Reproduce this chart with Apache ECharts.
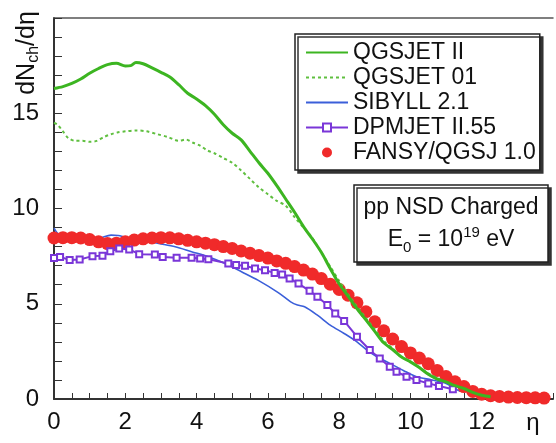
<!DOCTYPE html>
<html>
<head>
<meta charset="utf-8">
<script src="https://cdn.jsdelivr.net/npm/echarts@6/dist/echarts.min.js"></script>
<style>
  html, body { margin: 0; padding: 0; background: #fff; }
  #chart { width: 556px; height: 443px; }
</style>
</head>
<body>
<div id="chart"></div>
<script>
// pp NSD charged, dNch/deta vs eta

// QGSJET II (solid green)
const qgs2Eta = [0, 0.25, 0.5, 0.75, 1.0, 1.25, 1.5, 1.75, 2.0, 2.15, 2.3, 2.5, 2.75, 3.0, 3.25, 3.5, 3.75, 4.0, 4.25, 4.5, 4.75, 5.0, 5.25, 5.5, 5.75, 6.0, 6.25, 6.5, 6.75, 7.0, 7.25, 7.5, 7.75, 8.0, 8.25, 8.5, 8.75, 9.0, 9.25, 9.5, 9.75, 10.0, 10.25, 10.5, 10.75, 11.0, 11.25, 11.5, 11.75, 12.0, 12.25];
const qgs2Val = [16.3, 16.4, 16.57, 16.8, 17.1, 17.35, 17.55, 17.62, 17.48, 17.5, 17.67, 17.6, 17.38, 17.15, 16.9, 16.5, 16.05, 15.75, 15.4, 14.95, 14.4, 13.95, 13.6, 13.0, 12.4, 11.85, 11.2, 10.5, 9.8, 9.05, 8.4, 7.7, 6.85, 6.05, 5.4, 4.75, 4.15, 3.55, 2.95, 2.6, 2.2, 1.95, 1.65, 1.3, 1.05, 0.9, 0.7, 0.55, 0.35, 0.2, 0.12];

// QGSJET 01 (dotted green)
const qgs01Eta = [0, 0.1, 0.25, 0.4, 0.6, 0.8, 1.0, 1.2, 1.4, 1.6, 1.8, 2.0, 2.3, 2.6, 2.9, 3.2, 3.5, 3.7, 3.9, 4.1, 4.3, 4.5, 4.75, 5.0, 5.25, 5.5, 5.75, 6.0, 6.25, 6.5, 6.75, 7.0, 7.25, 7.5, 7.75, 8.0, 8.25, 8.5, 8.75, 9.0, 9.25, 9.5, 9.75, 10.0, 10.25, 10.5, 10.75, 11.0, 11.25, 11.5, 11.75, 12.0];
const qgs01Val = [14.5, 14.4, 14.05, 13.7, 13.55, 13.55, 13.5, 13.55, 13.75, 13.9, 14.0, 14.05, 14.1, 14.05, 13.9, 13.75, 13.55, 13.62, 13.45, 13.3, 13.05, 12.9, 12.65, 12.4, 12.0, 11.55, 11.1, 10.75, 10.4, 10.15, 9.55, 9.0, 8.45, 7.7, 6.95, 6.2, 5.5, 4.85, 4.25, 3.65, 3.05, 2.65, 2.2, 1.95, 1.65, 1.35, 1.1, 0.9, 0.7, 0.55, 0.35, 0.2];

// SIBYLL 2.1 (blue)
const sibEta = [0, 0.1, 0.3, 0.6, 1.0, 1.3, 1.6, 1.8, 2.0, 2.3, 2.94, 3.4, 3.86, 4.33, 4.8, 5.26, 5.72, 6.28, 6.64, 6.83, 7.03, 7.39, 7.75, 8.14, 8.5, 8.78, 9.06, 9.42, 9.8, 10.17, 10.6, 11.0, 11.22, 11.4];
const sibVal = [8.97, 8.7, 8.45, 8.38, 8.36, 8.46, 8.6, 8.58, 8.5, 8.4, 8.16, 7.99, 7.73, 7.47, 7.11, 6.68, 6.24, 5.6, 5.1, 4.93, 4.84, 4.4, 3.88, 3.44, 3.0, 2.57, 2.22, 1.87, 1.5, 1.17, 1.0, 0.82, 0.58, 0.4];

// DPMJET II.55 (purple, open squares)
const dpmEta = [0, 0.17, 0.44, 0.72, 1.08, 1.36, 1.58, 1.83, 2.11, 2.39, 2.83, 3.05, 3.44, 3.86, 4.1, 4.33, 4.89, 5.11, 5.36, 5.64, 5.92, 6.19, 6.4, 6.61, 6.86, 7.17, 7.39, 7.67, 7.89, 8.14, 8.5, 8.86, 9.14, 9.42, 9.61, 9.89, 10.17, 10.5, 10.8, 11.19];
const dpmVal = [7.4, 7.46, 7.3, 7.32, 7.5, 7.52, 7.76, 7.9, 7.85, 7.6, 7.58, 7.46, 7.41, 7.41, 7.38, 7.34, 7.11, 7.03, 6.99, 6.85, 6.76, 6.62, 6.54, 6.33, 6.06, 5.68, 5.37, 4.93, 4.49, 4.1, 3.27, 2.57, 2.13, 1.69, 1.43, 1.17, 1.0, 0.82, 0.68, 0.51];

// FANSY/QGSJ 1.0 (red dots, step 0.25)
const fansyEta = [0, 0.25, 0.5, 0.75, 1.0, 1.25, 1.5, 1.75, 2.0, 2.25, 2.5, 2.75, 3.0, 3.25, 3.5, 3.75, 4.0, 4.25, 4.5, 4.75, 5.0, 5.25, 5.5, 5.75, 6.0, 6.25, 6.5, 6.75, 7.0, 7.25, 7.5, 7.75, 8.0, 8.25, 8.5, 8.75, 9.0, 9.25, 9.5, 9.75, 10.0, 10.25, 10.5, 10.75, 11.0, 11.25, 11.5, 11.75, 12.0, 12.25, 12.5, 12.75, 13.0, 13.25, 13.5, 13.75];
const fansyVal = [8.45, 8.47, 8.47, 8.45, 8.37, 8.25, 8.16, 8.18, 8.25, 8.34, 8.41, 8.45, 8.47, 8.46, 8.41, 8.33, 8.25, 8.18, 8.1, 8.0, 7.9, 7.77, 7.65, 7.53, 7.4, 7.25, 7.12, 6.95, 6.77, 6.56, 6.32, 6.03, 5.75, 5.45, 5.05, 4.58, 4.05, 3.58, 3.15, 2.75, 2.42, 2.15, 1.85, 1.5, 1.18, 0.9, 0.65, 0.4, 0.25, 0.17, 0.13, 0.1, 0.08, 0.07, 0.06, 0.05];

const seriesNames = ['QGSJET II', 'QGSJET 01', 'SIBYLL 2.1', 'DPMJET II.55', 'FANSY/QGSJ 1.0'];

const colors = {
    qgs2: '#3cb521',
    qgs01: '#5fbf3f',
    sib: '#3b5fd9',
    dpm: '#7a36d8',
    fansy: '#f02a2a',
    axis: '#333'
};

const FONT = 'Liberation Sans, Arial, sans-serif';

function zip(xs, ys) {
    return xs.map((x, i) => [x, ys[i]]);
}

// legend entries: plain lines get no marker
const noMarker = { color: 'rgba(0,0,0,0)', borderWidth: 0 };
const legendData = [
    { name: 'QGSJET II', itemStyle: noMarker },
    { name: 'QGSJET 01', itemStyle: noMarker },
    { name: 'SIBYLL 2.1', itemStyle: noMarker },
    { name: 'DPMJET II.55' },
    { name: 'FANSY/QGSJ 1.0' }
];

const chart = echarts.init(document.getElementById('chart'), null, { renderer: 'canvas' });

const hiddenAxis = {
    axisLabel: { show: false },
    axisTick: { show: false },
    splitLine: { show: false }
};

const option = {
    animation: false,
    backgroundColor: '#fff',
    grid: {
        left: 54,
        top: 18,
        width: 506,
        height: 381
    },
    xAxis: [
        {
            type: 'value',
            min: 0,
            max: 14,
            interval: 2,
            axisLine: { lineStyle: { color: colors.axis, width: 2 } },
            axisTick: { inside: true, length: 6, lineStyle: { color: colors.axis, width: 1 } },
            minorTick: { show: true, splitNumber: 4, length: 6, lineStyle: { color: colors.axis, width: 1 } },
            splitLine: { show: false },
            axisLabel: {
                color: '#111',
                fontSize: 24,
                fontFamily: FONT,
                margin: 11,
                formatter: v => (v > 12 ? '' : String(v))
            }
        },
        Object.assign({
            type: 'value',
            position: 'top',
            min: 0,
            max: 14,
            axisLine: { show: true, lineStyle: { color: '#555', width: 1.5 } }
        }, hiddenAxis)
    ],
    yAxis: {
        type: 'value',
        min: 0,
        max: 20,
        interval: 5,
        axisLine: { show: true, lineStyle: { color: colors.axis, width: 2 } },
        axisTick: { inside: true, length: 8, lineStyle: { color: colors.axis, width: 1 } },
        minorTick: { show: true, splitNumber: 5, length: 8, lineStyle: { color: colors.axis, width: 1 } },
        splitLine: { show: false },
        axisLabel: {
            color: '#111',
            fontSize: 24,
            fontFamily: FONT,
            margin: 15,
            formatter: v => (v >= 20 ? '' : String(v))
        }
    },
    legend: {
        orient: 'vertical',
        left: 295,
        top: 34,
        data: legendData,
        itemWidth: 42,
        itemHeight: 10,
        itemGap: 0,
        padding: [6, 4, 5, 10],
        backgroundColor: '#fff',
        borderColor: '#222',
        borderWidth: 1.5,
        borderRadius: 0,
        shadowColor: '#333',
        shadowBlur: 0,
        shadowOffsetX: 3,
        shadowOffsetY: 3,
        textStyle: {
            color: '#111',
            fontSize: 23,
            fontFamily: FONT,
            lineHeight: 25
        }
    },
    graphic: [
        {
            type: 'rect',
            shape: { x: 354, y: 185, width: 194, height: 77 },
            style: {
                fill: '#fff',
                stroke: '#222',
                lineWidth: 1.5,
                shadowColor: '#333',
                shadowBlur: 0,
                shadowOffsetX: 3,
                shadowOffsetY: 3
            },
            z: 10
        },
        {
            type: 'text',
            x: 451,
            y: 208,
            style: {
                text: 'pp NSD Charged',
                fill: '#111',
                font: '23px ' + FONT,
                align: 'center',
                verticalAlign: 'middle'
            },
            z: 11
        },
        {
            type: 'text',
            x: 451,
            y: 240,
            style: {
                text: '{n|E}{sub|0}{n| = 10}{sup|19}{n| eV}',
                fill: '#111',
                align: 'center',
                verticalAlign: 'middle',
                rich: {
                    n: { fontSize: 23, fontFamily: FONT, fill: '#111', lineHeight: 30, verticalAlign: 'middle' },
                    sub: { fontSize: 15, fontFamily: FONT, fill: '#111', lineHeight: 30, verticalAlign: 'bottom' },
                    sup: { fontSize: 15, fontFamily: FONT, fill: '#111', lineHeight: 30, verticalAlign: 'top' }
                }
            },
            z: 11
        },
        {
            type: 'text',
            x: 27,
            y: 53,
            rotation: Math.PI / 2,
            style: {
                text: '{n|dN}{sub|ch}{n|/dη}',
                fill: '#111',
                align: 'center',
                verticalAlign: 'middle',
                rich: {
                    n: { fontSize: 25, fontFamily: FONT, fill: '#111', lineHeight: 30, verticalAlign: 'middle' },
                    sub: { fontSize: 16, fontFamily: FONT, fill: '#111', lineHeight: 30, verticalAlign: 'bottom' }
                }
            }
        },
        {
            type: 'text',
            x: 533,
            y: 423,
            style: {
                text: 'η',
                fill: '#111',
                font: '24px ' + FONT,
                align: 'center',
                verticalAlign: 'middle'
            }
        }
    ],
    series: [
        {
            name: 'SIBYLL 2.1',
            type: 'line',
            data: zip(sibEta, sibVal),
            symbol: 'none',
            smooth: 0.3,
            itemStyle: { color: colors.sib },
            lineStyle: { color: colors.sib, width: 1.6 },
            z: 2
        },
        {
            name: 'FANSY/QGSJ 1.0',
            type: 'scatter',
            data: zip(fansyEta, fansyVal),
            symbol: 'circle',
            symbolSize: 13,
            itemStyle: { color: colors.fansy, opacity: 1 },
            z: 3
        },
        {
            name: 'DPMJET II.55',
            type: 'line',
            data: zip(dpmEta, dpmVal),
            symbol: 'emptyRect',
            symbolSize: 6,
            showAllSymbol: true,
            itemStyle: { color: colors.dpm, borderWidth: 1.5 },
            lineStyle: { color: colors.dpm, width: 2 },
            z: 4
        },
        {
            name: 'QGSJET 01',
            type: 'line',
            data: zip(qgs01Eta, qgs01Val),
            symbol: 'none',
            smooth: 0.3,
            itemStyle: { color: colors.qgs01 },
            lineStyle: { color: colors.qgs01, width: 2, type: [3, 3] },
            z: 5
        },
        {
            name: 'QGSJET II',
            type: 'line',
            data: zip(qgs2Eta, qgs2Val),
            symbol: 'none',
            smooth: 0.3,
            itemStyle: { color: colors.qgs2 },
            lineStyle: { color: colors.qgs2, width: 3 },
            z: 6
        }
    ]
};

chart.setOption(option);
</script>
</body>
</html>
